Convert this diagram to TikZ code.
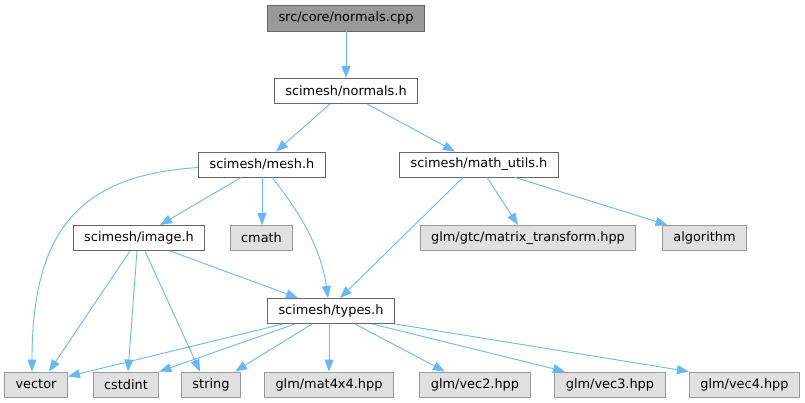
\documentclass[tikz,border=0pt]{standalone}
\usepackage{fontspec}
\setmainfont{DejaVu Sans}
\usetikzlibrary{arrows.meta}
\definecolor{edgeblue}{RGB}{99, 184, 255}
\definecolor{rootfill}{RGB}{153, 153, 153}
\definecolor{darkline}{RGB}{102, 102, 102}
\definecolor{sysfill}{RGB}{224, 224, 224}
\definecolor{sysline}{RGB}{153, 153, 153}

\begin{document}
\begin{tikzpicture}[x=1pt, y=-1pt,
    filebox/.style={draw=darkline, fill=white, line width=0.9pt, minimum height=25pt,
                    inner xsep=11pt, font=\fontsize{12.9}{15}\selectfont},
    rootbox/.style={filebox, fill=rootfill, minimum height=26pt},
    sysbox/.style={filebox, draw=sysline, fill=sysfill},
    dep/.style={draw=edgeblue, line width=0.9pt, -{Triangle[length=12pt, width=9pt]}}]

                 \useasboundingbox (0, 0) rectangle (805, 403);

                 % top of the graph
                 \node[rootbox] (cpp) at (346, 18) {src/core/normals.cpp};
                 \node[filebox] (normalsh) at (346, 91) {scimesh/normals.h};
                 \node[filebox] (mesh) at (262, 164.5) {scimesh/mesh.h};
                 \node[filebox] (mathutils) at (479, 164.5) {scimesh/math\_utils.h};

                 % middle row
                 \node[filebox] (image) at (139, 238) {scimesh/image.h};
                 \node[sysbox] (cmath) at (261.5, 238) {cmath};
                 \node[sysbox] (matrix) at (528, 238) {glm/gtc/matrix\_transform.hpp};
                 \node[sysbox] (algorithm) at (704.5, 238) {algorithm};
                 \node[filebox] (types) at (331, 311) {scimesh/types.h};

                 % bottom row
                 \node[sysbox] (vector) at (36, 384.5) {vector};
                 \node[sysbox] (cstdint) at (126, 384.5) {cstdint};
                 \node[sysbox] (string) at (211, 384.5) {string};
                 \node[sysbox] (mat4x4) at (329, 384.5) {glm/mat4x4.hpp};
                 \node[sysbox] (vec2) at (475, 384.5) {glm/vec2.hpp};
                 \node[sysbox] (vec3) at (610, 384.5) {glm/vec3.hpp};
                 \node[sysbox] (vec4) at (744.5, 384.5) {glm/vec4.hpp};

                 \draw[dep] (cpp) -- (normalsh);
                 \draw[dep] ([xshift=-16pt]normalsh.south) -- ([xshift=14pt]mesh.north);
                 \draw[dep] ([xshift=21pt]normalsh.south) -- ([xshift=-24pt]mathutils.north);

                 \draw[dep] ([yshift=-3pt]mesh.west)
                 .. controls (80, 175) and (32, 230) .. ([xshift=-4pt]vector.north);
                 \draw[dep] ([xshift=-21pt]mesh.south) -- ([xshift=21pt]image.north);
                 \draw[dep] (mesh.south) -- (mesh.south |- cmath.north);
                 \draw[dep] ([xshift=10pt]mesh.south)
                 .. controls (290, 200) and (320, 240) .. ([xshift=-3pt]types.north);

                 \draw[dep] ([xshift=-16pt]mathutils.south) -- ([xshift=9pt]types.north);
                 \draw[dep] ([xshift=8pt]mathutils.south) -- ([xshift=-10pt]matrix.north);
                 \draw[dep] ([xshift=36pt]mathutils.south) -- ([xshift=-37pt]algorithm.north);

                 \draw[dep] ([xshift=31pt]image.south) -- ([xshift=31pt]types.north west);
                 \draw[dep] ([xshift=-9pt]image.south) -- ([xshift=13pt]vector.north);
                 \draw[dep] ([xshift=-2pt]image.south) -- ([xshift=2pt]cstdint.north);
                 \draw[dep] ([xshift=6pt]image.south) -- ([xshift=-11pt]string.north);

                 \draw[dep] ([xshift=16pt]types.south west) -- ([yshift=8pt]vector.east);
                 \draw[dep] ([xshift=28pt]types.south west) -- (cstdint.north east);
                 \draw[dep] ([xshift=45pt]types.south west) -- ([xshift=-6pt]string.north east);
                 \draw[dep] (types.south -| mat4x4.north) -- (mat4x4.north);
                 \draw[dep] ([xshift=24pt]types.south) -- ([xshift=-30pt]vec2.north);
                 \draw[dep] ([xshift=41pt]types.south) -- ([xshift=-45pt]vec3.north);
                 \draw[dep] (types.south east) -- (vec4.north west);

             \end{tikzpicture}
\end{document}
